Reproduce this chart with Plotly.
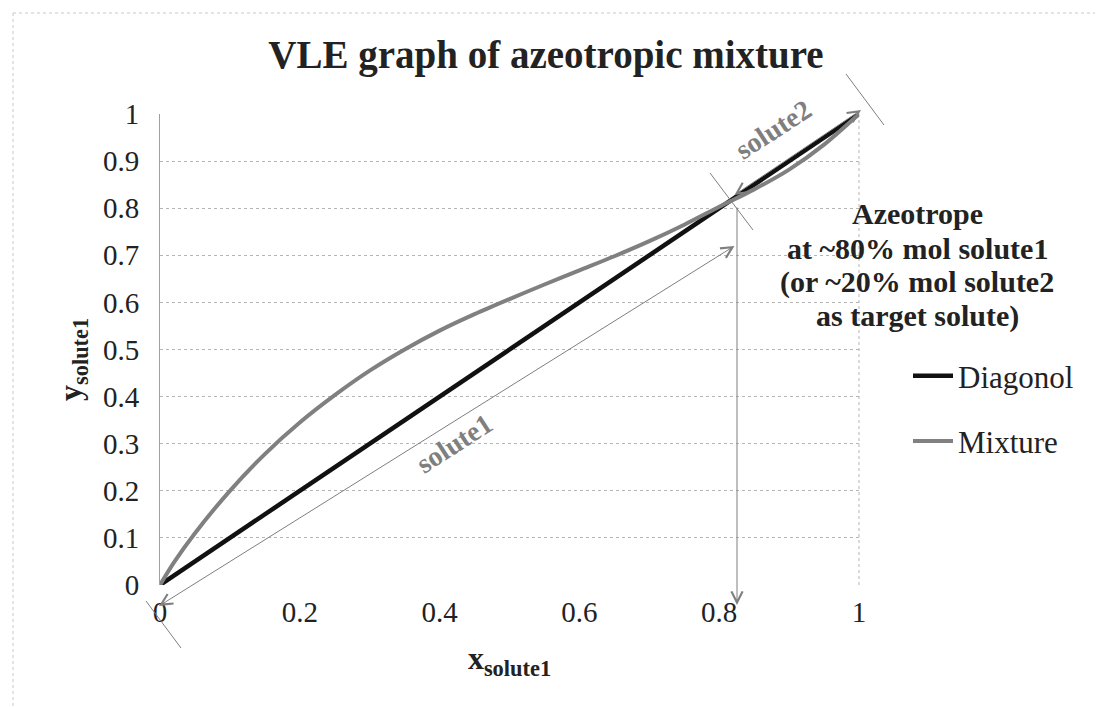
import plotly.graph_objects as go

# ---- data ----
x_diag = [0, 1]
y_diag = [0, 1]

x_mix = [0, 0.02, 0.05, 0.1, 0.15, 0.2, 0.25, 0.3, 0.35, 0.4, 0.45, 0.5,
         0.55, 0.6, 0.65, 0.7, 0.75, 0.8, 0.85, 0.9, 0.95, 1.0]
y_mix = [0, 0.048, 0.11, 0.2, 0.278, 0.345, 0.403, 0.455, 0.50, 0.54, 0.575, 0.607,
         0.638, 0.668, 0.698, 0.73, 0.765, 0.803, 0.84, 0.882, 0.935, 1.0]

x_ticks = [0, 0.2, 0.4, 0.6, 0.8, 1]
x_ticktext = ["0", "0.2", "0.4", "0.6", "0.8", "1"]
y_ticks = [0, 0.1, 0.2, 0.3, 0.4, 0.5, 0.6, 0.7, 0.8, 0.9, 1]
y_ticktext = ["0", "0.1", "0.2", "0.3", "0.4", "0.5", "0.6", "0.7", "0.8", "0.9", "1"]

series_names = ["Diagonol", "Mixture"]

note_lines = ["Azeotrope", "at ~80% mol solute1", "(or ~20% mol solute2", "as target solute)"]

FONT = "Liberation Serif, Times New Roman, Times, serif"
GRAY = "#7f7f7f"
TXT = "#222222"

fig = go.Figure()
fig.add_trace(go.Scatter(x=x_diag, y=y_diag, mode="lines", name=series_names[0],
                         line=dict(color="#111111", width=4.5), legendgroup="a"))
fig.add_trace(go.Scatter(x=x_mix, y=y_mix, mode="lines", name=series_names[1],
                         line=dict(color="#808080", width=4, shape="spline", smoothing=0.8),
                         legendgroup="b"))

W, H = 1103, 707
L, R, T, B = 152, 851, 106, 577


def px(xp):
    return (xp - L) / (R - L)


def py(yp):
    return (B - yp) / (B - T)


def arrow(x0, y0, x1, y1, both=True):
    d = dict(text="", xref="x", yref="y", axref="x", ayref="y",
             x=px(x1), y=py(y1), ax=px(x0), ay=py(y0), showarrow=True,
             arrowhead=5, arrowsize=2.2, arrowwidth=1, arrowcolor=GRAY,
             standoff=0, startstandoff=0)
    if both:
        d.update(startarrowhead=5, startarrowsize=2.2, arrowside="end+start")
    return d


annotations = []
for i, line in enumerate(note_lines):
    annotations.append(dict(text=line, xref="paper", yref="paper", x=px(909), y=py(206 + 34 * i),
                            xanchor="center", yanchor="middle", showarrow=False,
                            font=dict(family=FONT, size=30, color=TXT, weight="bold")))

annotations += [
    dict(text="solute1", xref="paper", yref="paper", x=px(446), y=py(435),
         xanchor="center", yanchor="middle",
         showarrow=False, textangle=-33,
         font=dict(family=FONT, size=28, color=GRAY, weight="bold")),
    dict(text="solute2", xref="paper", yref="paper", x=px(765), y=py(121),
         xanchor="center", yanchor="middle",
         showarrow=False, textangle=-33,
         font=dict(family=FONT, size=28, color=GRAY, weight="bold")),
    # y axis title
    dict(text="y<sub>solute1</sub>", xref="paper", yref="paper", x=px(64), y=py(352),
         xanchor="center", yanchor="middle", showarrow=False, textangle=-90,
         font=dict(family=FONT, size=32, color=TXT, weight="bold")),
    arrow(728, 237, 151, 598),
    arrow(725, 188, 853, 102),
    arrow(729, 198, 729, 597, both=False),
]

shapes = [
    dict(type="line", xref="paper", yref="paper", x0=1, x1=1, y0=0, y1=1,
         line=dict(color="#b5b5b5", width=1, dash="dot"), layer="below"),
    dict(type="line", xref="paper", yref="paper", x0=px(138), y0=py(593), x1=px(173), y1=py(640),
         line=dict(color=GRAY, width=1)),
    dict(type="line", xref="paper", yref="paper", x0=px(702), y0=py(165), x1=px(745), y1=py(222),
         line=dict(color=GRAY, width=1)),
    dict(type="line", xref="paper", yref="paper", x0=px(838), y0=py(66), x1=px(876), y1=py(117),
         line=dict(color=GRAY, width=1)),
    dict(type="line", xref="paper", yref="paper", x0=px(5), y0=py(5), x1=px(1103), y1=py(5),
         line=dict(color="#c8c8c8", width=1, dash="dot")),
    dict(type="line", xref="paper", yref="paper", x0=px(5), y0=py(5), x1=px(5), y1=py(707),
         line=dict(color="#c8c8c8", width=1, dash="dot")),
]

fig.update_layout(
    width=W, height=H,
    margin=dict(l=L, r=W - R, t=T, b=H - B),
    paper_bgcolor="white", plot_bgcolor="white",
    title=dict(text="VLE graph of azeotropic mixture", x=538 / W, xanchor="center",
               y=1 - 46 / H, yanchor="middle", yref="container",
               font=dict(family=FONT, size=39, color=TXT, weight="bold")),
    font=dict(family=FONT, color=TXT),
    xaxis=dict(range=[0, 1], tickvals=x_ticks, ticktext=x_ticktext, showgrid=False,
               zeroline=False, showline=False, ticks="", ticklabelstandoff=7,
               tickfont=dict(family=FONT, size=29, color=TXT),
               title=dict(text="x<sub>solute1</sub>", standoff=19,
                          font=dict(family=FONT, size=32, color=TXT, weight="bold"))),
    yaxis=dict(range=[0, 1], tickvals=y_ticks, ticktext=y_ticktext, showgrid=True,
               gridcolor="#b5b5b5", griddash="dot", gridwidth=1,
               zeroline=False, showline=True, linecolor="#a0a0a0", linewidth=1,
               ticks="", ticklabelstandoff=14,
               tickfont=dict(family=FONT, size=29, color=TXT)),
    legend=dict(x=px(900), y=py(341), xanchor="left", yanchor="top",
                font=dict(family=FONT, size=31, color=TXT), tracegroupgap=22,
                bgcolor="rgba(0,0,0,0)", itemwidth=40),
    annotations=annotations,
    shapes=shapes,
    showlegend=True,
)

fig.write_html("out.html")
